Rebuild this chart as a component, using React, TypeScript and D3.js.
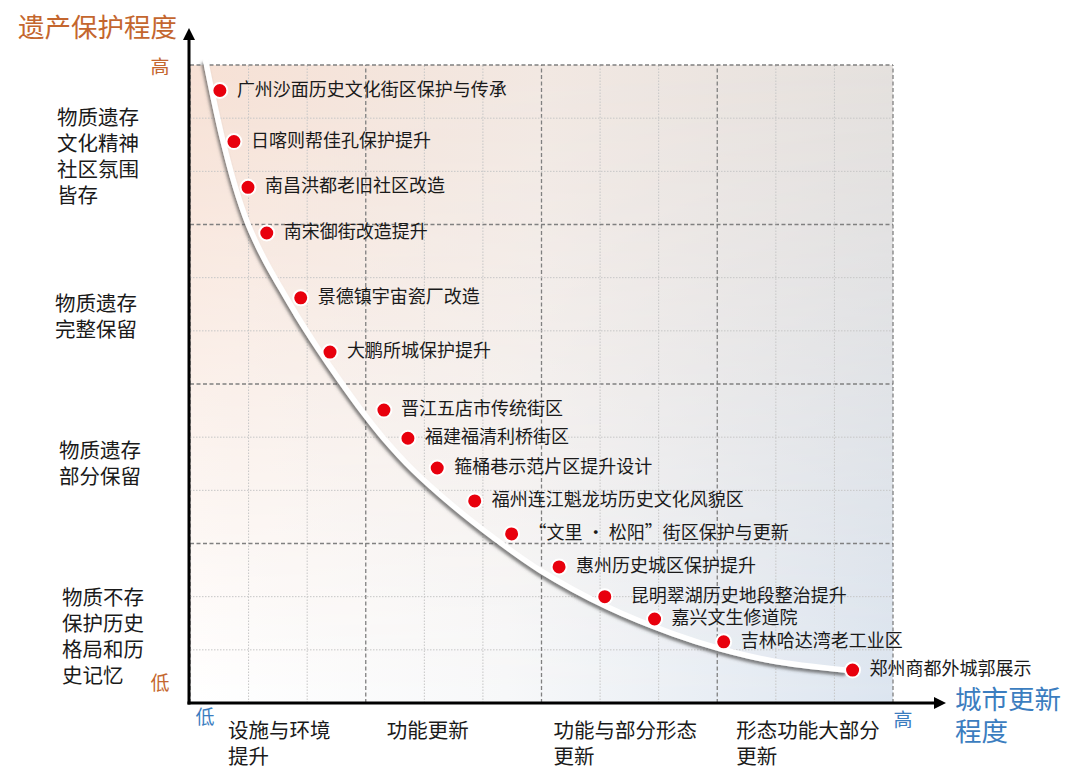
import * as d3 from "d3";

// 项目名称与位置（横轴：城市更新程度，纵轴：遗产保护程度，0–12 格）
const projects = [
  "广州沙面历史文化街区保护与传承",
  "日喀则帮佳孔保护提升",
  "南昌洪都老旧社区改造",
  "南宋御街改造提升",
  "景德镇宇宙瓷厂改造",
  "大鹏所城保护提升",
  "晋江五店市传统街区",
  "福建福清利桥街区",
  "箍桶巷示范片区提升设计",
  "福州连江魁龙坊历史文化风貌区",
  "“文里 · 松阳”街区保护与更新",
  "惠州历史城区保护提升",
  "昆明翠湖历史地段整治提升",
  "嘉兴文生修道院",
  "吉林哈达湾老工业区",
  "郑州商都外城郭展示",
];
const renewalLevel = [0.51, 0.75, 0.99, 1.31, 1.89, 2.39, 3.31, 3.72, 4.22, 4.86, 5.49, 6.3, 7.08, 7.93, 9.11, 11.31];
const protectionLevel = [11.52, 10.56, 9.7, 8.84, 7.62, 6.6, 5.51, 4.98, 4.42, 3.8, 3.18, 2.56, 2.0, 1.58, 1.15, 0.62];

// 趋势曲线
const trendX = [0.27, 0.39, 0.55, 0.77, 0.99, 1.26, 1.54, 1.83, 2.19, 2.53, 2.95, 3.29, 3.81, 4.49, 5.17, 5.97, 7.12, 8.25, 9.05, 9.95, 11.18];
const trendY = [12.06, 11.42, 10.63, 9.72, 9.01, 8.37, 7.82, 7.28, 6.66, 6.11, 5.47, 5.0, 4.38, 3.71, 3.12, 2.5, 1.81, 1.3, 1.02, 0.79, 0.62];

const yBandLabels = [
  ["物质遗存", "文化精神", "社区氛围", "皆存"],
  ["物质遗存", "完整保留"],
  ["物质遗存", "部分保留"],
  ["物质不存", "保护历史", "格局和历", "史记忆"],
];
const xBandLabels = [
  ["设施与环境", "提升"],
  ["功能更新"],
  ["功能与部分形态", "更新"],
  ["形态功能大部分", "更新"],
];

const W = 1080;
const H = 780;
const FONT = "'Noto Sans CJK SC', 'Noto Sans', sans-serif";
const ORANGE = "#c4662e";
const BLUE = "#3b7dbf";

const x = d3.scaleLinear().domain([0, 12]).range([190, 893]);
const y = d3.scaleLinear().domain([0, 12]).range([703, 65]);

export default function App() {
  const gridVals = d3.range(0, 13);
  const trend = d3
    .line<number>()
    .x((d) => x(trendX[d]))
    .y((d) => y(trendY[d]))
    .curve(d3.curveCatmullRom.alpha(0.5))(d3.range(trendX.length));

  // 标签位置微调（像素）
  const yLabelLeft = [57, 55, 59, 62];
  const yLabelShift = [12, 13, 0, 14];
  const xLabelOffset = [38, 21, 12, 19];
  const labelGap = (i: number) => (i === 12 ? 26 : 17);

  return (
    <svg width={W} height={H} style={{ position: "absolute", left: 0, top: 0, background: "#fff" }} fontFamily={FONT}>
      <defs>
        <linearGradient id="topRow" x1="0" x2="1" y1="0" y2="0">
          <stop offset="0" stopColor="#f7e1d5" />
          <stop offset="0.5" stopColor="#f2e8e2" />
          <stop offset="1" stopColor="#e5e1de" />
        </linearGradient>
        <linearGradient id="bottomRow" x1="0" x2="1" y1="0" y2="0">
          <stop offset="0" stopColor="#ffffff" />
          <stop offset="0.45" stopColor="#f7f8f9" />
          <stop offset="1" stopColor="#dce5f0" />
        </linearGradient>
        <linearGradient id="fadeV" x1="0" x2="0" y1="0" y2="1">
          <stop offset="0" stopColor="#000" />
          <stop offset="1" stopColor="#fff" />
        </linearGradient>
        <mask id="bottomMask">
          <rect x={x(0)} y={y(12)} width={x(12) - x(0)} height={y(0) - y(12)} fill="url(#fadeV)" />
        </mask>
        <filter id="shadow" x="-10%" y="-10%" width="120%" height="120%">
          <feDropShadow dx="-1.5" dy="3" stdDeviation="1.8" floodColor="#505050" floodOpacity="0.7" />
        </filter>
        <marker id="arrow" viewBox="0 0 10 10" refX="5" refY="5" markerWidth="4" markerHeight="4" orient="auto">
          <path d="M0,0 L10,5 L0,10 z" fill="#000" />
        </marker>
      </defs>

      {/* 背景渐变 */}
      <rect x={x(0)} y={y(12)} width={x(12) - x(0)} height={y(0) - y(12)} fill="url(#topRow)" />
      <rect x={x(0)} y={y(12)} width={x(12) - x(0)} height={y(0) - y(12)} fill="url(#bottomRow)" mask="url(#bottomMask)" />

      {/* 网格 */}
      {gridVals.map((v) => (
        <g key={"g" + v}>
          <line
            x1={x(v)} x2={x(v)} y1={y(0)} y2={y(12)}
            stroke={v % 3 === 0 ? "#808080" : "#c6c6c6"}
            strokeWidth={v % 3 === 0 ? 1.3 : 1}
            strokeDasharray={v % 3 === 0 ? "4,2.5" : "1.5,1.5"}
          />
          <line
            x1={x(0)} x2={x(12)} y1={y(v)} y2={y(v)}
            stroke={v % 3 === 0 ? "#808080" : "#c6c6c6"}
            strokeWidth={v % 3 === 0 ? 1.3 : 1}
            strokeDasharray={v % 3 === 0 ? "4,2.5" : "1.5,1.5"}
          />
        </g>
      ))}

      {/* 坐标轴 */}
      <line x1={x(0) - 1} x2={x(0) - 1} y1={y(0) + 1.5} y2={34} stroke="#000" strokeWidth={3} markerEnd="url(#arrow)" />
      <line x1={x(0) - 2.5} x2={940} y1={y(0)} y2={y(0)} stroke="#000" strokeWidth={3} markerEnd="url(#arrow)" />

      {/* 趋势曲线 */}
      <path d={trend ?? ""} fill="none" stroke="#fff" strokeWidth={5.5} strokeLinecap="round" filter="url(#shadow)" />

      {/* 项目点 */}
      {projects.map((name, i) => (
        <g key={name}>
          <circle cx={x(renewalLevel[i])} cy={y(protectionLevel[i])} r={7.5} fill="#e8000d" stroke="#fff" strokeWidth={2} />
          <text x={x(renewalLevel[i]) + labelGap(i)} y={y(protectionLevel[i]) + 5} fontSize={18} fill="#1a1a1a">
            {name}
          </text>
        </g>
      ))}

      {/* 轴标题 */}
      <text x={18} y={37} fontSize={26.5} fill={ORANGE}>遗产保护程度</text>
      <text x={160} y={74} fontSize={19} fill={ORANGE} textAnchor="middle">高</text>
      <text x={160} y={690} fontSize={19} fill={ORANGE} textAnchor="middle">低</text>
      <text x={205} y={724} fontSize={19} fill={BLUE} textAnchor="middle">低</text>
      <text x={903} y={727} fontSize={19} fill={BLUE} textAnchor="middle">高</text>
      <text x={955} y={709} fontSize={26.5} fill={BLUE}>城市更新</text>
      <text x={955} y={741} fontSize={26.5} fill={BLUE}>程度</text>

      {/* 纵向分区说明 */}
      {yBandLabels.map((lines, b) => {
        const cy = y(12 - b * 3 - 1.5) + yLabelShift[b];
        const top = cy - ((lines.length - 1) * 26) / 2;
        return (
          <text key={"yb" + b} x={yLabelLeft[b]} fontSize={20.5} fill="#1a1a1a">
            {lines.map((l, k) => (
              <tspan key={k} x={yLabelLeft[b]} y={top + k * 26 + 7}>{l}</tspan>
            ))}
          </text>
        );
      })}

      {/* 横向分区说明 */}
      {xBandLabels.map((lines, b) => (
        <text key={"xb" + b} fontSize={20.5} fill="#1a1a1a">
          {lines.map((l, k) => (
            <tspan key={k} x={x(b * 3) + xLabelOffset[b]} y={738 + k * 26}>{l}</tspan>
          ))}
        </text>
      ))}
    </svg>
  );
}
